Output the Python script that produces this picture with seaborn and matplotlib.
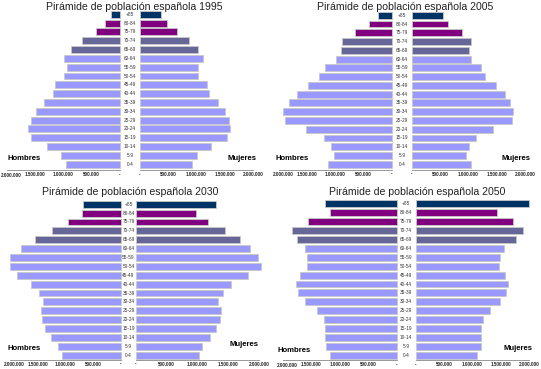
import matplotlib
matplotlib.use("Agg")
import matplotlib.pyplot as plt
import seaborn as sns
import pandas as pd

sns.set_theme(style="white")
plt.rcParams['font.family'] = ['Liberation Sans', 'DejaVu Sans']

ages = ['+85', '80-84', '75-79', '70-74', '65-69', '60-64', '55-59', '50-54', '45-49',
        '40-44', '35-39', '30-34', '25-29', '20-24', '15-19', '10-14', '5-9', '0-4']

colors = ['#003366', '#800080', '#800080', '#666699', '#666699'] + ['#9999FF'] * 13

hombres_1995 = [165000, 265000, 418000, 670000, 870000, 1000000, 941000, 994000, 1153000,
                1194000, 1353000, 1494000, 1582000, 1629000, 1582000, 1294000, 1047000, 959000]
mujeres_1995 = [376000, 482000, 653000, 876000, 1030000, 1118000, 1018000, 1035000, 1188000,
                1229000, 1382000, 1506000, 1571000, 1600000, 1547000, 1253000, 1012000, 924000]

hombres_2005 = [247000, 406000, 659000, 882000, 894000, 1000000, 1194000, 1288000, 1494000,
                1688000, 1818000, 1924000, 1900000, 1524000, 1200000, 1088000, 1029000, 1124000]
mujeres_2005 = [541000, 641000, 888000, 1053000, 1000000, 1053000, 1229000, 1288000, 1482000,
                1647000, 1735000, 1788000, 1771000, 1429000, 1124000, 1006000, 959000, 1053000]

hombres_2030 = [687000, 711000, 946000, 1247000, 1554000, 1795000, 2000000, 2000000, 1880000,
                1614000, 1482000, 1398000, 1440000, 1422000, 1367000, 1259000, 1127000, 1060000]
mujeres_2030 = [1308000, 978000, 1173000, 1449000, 1692000, 1859000, 1989000, 2030000, 1827000,
                1546000, 1422000, 1341000, 1384000, 1368000, 1303000, 1205000, 1076000, 1022000]

hombres_2050 = [1253000, 1171000, 1559000, 1841000, 1759000, 1606000, 1571000, 1571000, 1700000,
                1776000, 1741000, 1606000, 1406000, 1282000, 1253000, 1265000, 1241000, 1182000]
mujeres_2050 = [2006000, 1433000, 1713000, 1900000, 1766000, 1567000, 1491000, 1468000, 1579000,
                1632000, 1602000, 1480000, 1310000, 1193000, 1152000, 1158000, 1146000, 1082000]

years = ['1995', '2005', '2030', '2050']
tick_vals = [0, 500000, 1000000, 1500000, 2000000]
tick_labels = ['-', '500.000', '1.000.000', '1.500.000', '2.000.000']

W, H = 541, 369
fig = plt.figure(figsize=(W / 100, H / 100), dpi=100)
fig.patch.set_facecolor('white')

# layout per panel (pixels)
panels = [
    dict(year='1995', h=hombres_1995, m=mujeres_1995,
         l2=7, l0=120, r0=140, r2=253, ctop=14.3, cbot=164.2, yax=170,
         tx=134, ty=7, hx=8, hy=159, mx=257, my=159),
    dict(year='2005', h=hombres_2005, m=mujeres_2005,
         l2=279, l0=392, r0=412, r2=525, ctop=15.3, cbot=164.2, yax=169.5,
         tx=405, ty=7, hx=276, hy=159, mx=530, my=159),
    dict(year='2030', h=hombres_2030, m=mujeres_2030,
         l2=10, l0=121, r0=136, r2=259, ctop=204.2, cbot=355.2, yax=359.5,
         tx=130, ty=192, hx=8, hy=348, mx=258, my=345),
    dict(year='2050', h=hombres_2050, m=mujeres_2050,
         l2=283, l0=396.7, r0=415.7, r2=529, ctop=203.8, cbot=355.3, yax=360,
         tx=417, ty=192, hx=277, hy=351, mx=533, my=349),
]


def add_ax(x0, x1, ytop, ybot):
    return fig.add_axes([x0 / W, 1 - ybot / H, (x1 - x0) / W, (ybot - ytop) / H])


for p in panels:
    s = (p['cbot'] - p['ctop']) / 17.0
    ytop = p['ctop'] - 0.5 * s
    ybot = p['yax']
    ylim = (17 + (ybot - p['cbot']) / s, -0.5)
    for side in ['h', 'm']:
        if side == 'h':
            ax = add_ax(p['l2'], p['l0'], ytop, ybot)
        else:
            ax = add_ax(p['r0'], p['r2'], ytop, ybot)
        df = pd.DataFrame({'edad': ages, 'poblacion': p[side]})
        sns.barplot(data=df, x='poblacion', y='edad', hue='edad', order=ages,
                    palette=dict(zip(ages, colors)), legend=False, orient='h',
                    width=0.78, edgecolor='#c8c8c8', linewidth=0.6, ax=ax, saturation=1)
        for patch in ax.patches:
            patch.set_clip_on(False)
        ax.set_ylim(*ylim)
        if side == 'h':
            ax.set_xlim(2000000, 0)
        else:
            ax.set_xlim(0, 2000000)
        ax.set_xticks(tick_vals)
        labels = list(tick_labels)
        if side == 'h':
            labels[-1] = ''
        ax.set_xticklabels(labels, fontsize=3.3, fontweight='bold', color='#222222')
        ax.set_yticks([])
        ax.set_xlabel('')
        ax.set_ylabel('')
        for sp in ['top', 'left', 'right']:
            ax.spines[sp].set_visible(False)
        ax.spines['bottom'].set_color('#888888')
        ax.spines['bottom'].set_linewidth(0.6)
        ax.tick_params(axis='x', length=1.5, width=0.5, color='#888888', pad=1.5, direction='in')
        ax.set_facecolor('none')
    # left-most 2.000.000 label, nudged inside the figure
    fig.text((p['l2'] + 4) / W, 1 - (p['yax'] + 5.2) / H, tick_labels[-1], fontsize=3.3,
             fontweight='bold', color='#222222', ha='center', va='center')
    # category labels in the centre column
    cx = (p['l0'] + p['r0']) / 2.0
    for i, a in enumerate(ages):
        yc = p['ctop'] + i * s
        fig.text(cx / W, 1 - yc / H, a, fontsize=3.4, ha='center', va='center', color='#333333')
    fig.text(p['tx'] / W, 1 - p['ty'] / H, 'Pirámide de población española ' + p['year'],
             fontsize=7.6, ha='center', va='center', color='#222222')
    fig.text(p['hx'] / W, 1 - p['hy'] / H, 'Hombres', fontsize=5.6, fontweight='bold',
             ha='left', va='center', color='black')
    fig.text(p['mx'] / W, 1 - p['my'] / H, 'Mujeres', fontsize=5.6, fontweight='bold',
             ha='right', va='center', color='black')

fig.savefig('out.png', dpi=100, facecolor='white')
